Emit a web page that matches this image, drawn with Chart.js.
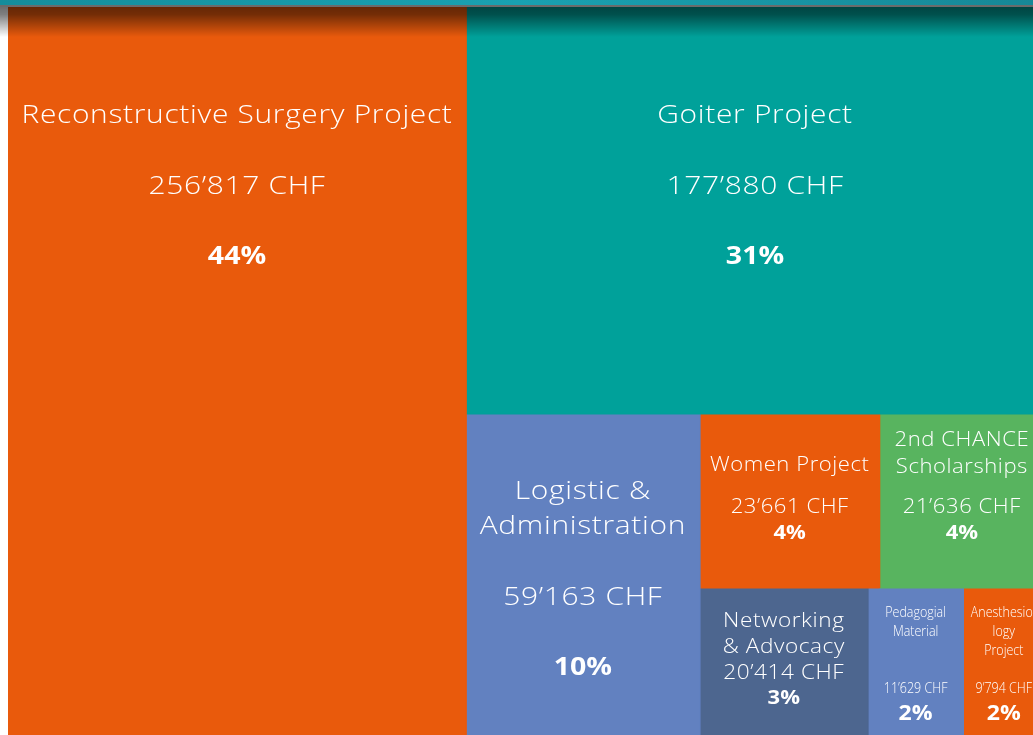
<!DOCTYPE html>
<html><head><meta charset="utf-8">
<script src="https://cdn.jsdelivr.net/npm/chart.js@4.4.1/dist/chart.umd.min.js"></script>
<style>html,body{margin:0;padding:0;background:#fff;overflow:hidden}#wrap{position:relative;width:1033px;height:735px}</style>
</head><body><div id="wrap"><canvas id="c"></canvas></div>
<script>
// ---------- data ----------
const categories = ['Reconstructive Surgery Project','Goiter Project','Logistic & Administration','Women Project','2nd CHANCE Scholarships','Networking & Advocacy','Pedagogial Material','Anesthesiology Project'];
const valuesCHF = [256817,177880,59163,23661,21636,20414,11629,9794];
const percentLabels = ['44%','31%','10%','4%','4%','3%','2%','2%'];
const titleLines = [['Reconstructive Surgery Project'],['Goiter Project'],['Logistic &','Administration'],['Women Project'],['2nd CHANCE','Scholarships'],['Networking','& Advocacy'],['Pedagogial','Material'],['Anesthesio-','logy','Project']];
const cellColors = ['#e95a0c','#00a19a','#6281c0','#e95a0c','#58b45f','#4d668f','#6281c0','#e95a0c'];

// ---------- styles (label placement per cell) ----------
const FAM = '"Open Sans"';
const BIG = {ref:'top', vy:180, lh:35, tg:71, pg:70, fs:[26,26,25.5], ls:0.6, sx:1.15, psx:1.12};
const labelStyles = [
  BIG, BIG,
  {ref:'mid', vy:16.6, lh:35, tg:71, pg:70, fs:[26,26,25.5], ls:0.6, sx:1.15, psx:1.12},
  {ref:'mid', vy:6, lh:27, tg:42, pg:26, fs:[19.5,19.5,20], ls:0.5, sx:1.13, psx:1.1},
  {ref:'mid', vy:6, lh:27, tg:40, pg:26, fs:[19.5,19.5,20], ls:0.5, sx:1.13, psx:1.1},
  {ref:'mid', vy:4.6, lh:26, tg:26, pg:25, fs:[20,20,20], ls:0.5, sx:1.13, psx:1.1},
  {ref:'mid', vy:20.6, lh:19, ty:25, pg:25, fs:[14.5,14.5,22], ls:0, sx:0.86, psx:1.05},
  {ref:'mid', vy:20.6, lh:19, ty:25, pg:25, fs:[14.5,14.5,22], ls:0, sx:0.86, psx:1.05}
];

function fmtCHF(n){ return n.toString().replace(/\B(?=(\d{3})+(?!\d))/g,'\u2019') + ' CHF'; }

// slice layout in the unit square, sizes proportional to the values
function treemapLayout(v){
  const A = v.reduce((a,b)=>a+b,0);
  const rects=[];
  const w0=v[0]/A; rects.push({x0:0,x1:w0,y0:0,y1:1});
  const R1=A-v[0]; const h1=v[1]/R1; rects.push({x0:w0,x1:1,y0:0,y1:h1});
  const R2=R1-v[1]; const xL=w0+(1-w0)*v[2]/R2; rects.push({x0:w0,x1:xL,y0:h1,y1:1});
  const R3=R2-v[2]; const rowA=v[3]+v[4]; const yR=h1+(1-h1)*rowA/R3;
  let x=xL;
  for(const i of [3,4]){const w=(1-xL)*v[i]/rowA; rects.push({x0:x,x1:x+w,y0:h1,y1:yR}); x+=w;}
  const rowB=v[5]+v[6]+v[7]; x=xL;
  for(const i of [5,6,7]){const w=(1-xL)*v[i]/rowB; rects.push({x0:x,x1:x+w,y0:yR,y1:1}); x+=w;}
  return rects;
}
const rects = treemapLayout(valuesCHF);

const datasets = rects.map((r,i)=>({
  label: categories[i],
  data: [{x:r.x0,y:r.y0},{x:r.x1,y:r.y0},{x:r.x1,y:r.y1},{x:r.x0,y:r.y1},{x:r.x0,y:r.y0}],
  backgroundColor: cellColors[i],
  borderColor: cellColors[i],
  borderWidth: 1,
  pointRadius: 0,
  tension: 0,
  fill: 'shape'
}));

function drawText(ctx, t, x, y, ls, sx){
  ctx.save();
  ctx.letterSpacing = ls + 'px';
  ctx.translate(x, y); ctx.scale(sx, 1);
  ctx.fillText(t, 0, 0);
  ctx.restore();
}

const decor = {
  id:'decor',
  afterDatasetsDraw(chart){
    const ctx = chart.ctx, ca = chart.chartArea, W = chart.width;
    const xs = chart.scales.x, ys = chart.scales.y;
    ctx.save();
    // top shadow
    const g = ctx.createLinearGradient(0, ca.top, 0, ca.top+30);
    g.addColorStop(0,'rgba(0,0,0,0.57)');
    g.addColorStop(0.25,'rgba(0,0,0,0.5)');
    g.addColorStop(1,'rgba(0,0,0,0)');
    ctx.fillStyle = g; ctx.fillRect(0, ca.top, W, 30);
    // top band
    const gb = ctx.createLinearGradient(0,0,W,0);
    gb.addColorStop(0,'#158d9b'); gb.addColorStop(0.5,'#19a1b1'); gb.addColorStop(1,'#168897');
    ctx.fillStyle = gb; ctx.fillRect(0,0,W,5);
    ctx.fillStyle = '#6b6b6b'; ctx.fillRect(0,5,W,2);
    // labels
    ctx.fillStyle = '#ffffff'; ctx.textAlign='center'; ctx.textBaseline='middle';
    rects.forEach((r,i)=>{
      const s = labelStyles[i];
      const px0 = xs.getPixelForValue(r.x0), px1 = xs.getPixelForValue(r.x1);
      const py0 = ys.getPixelForValue(r.y0), py1 = ys.getPixelForValue(r.y1);
      const cx = (px0+px1)/2;
      const base = s.ref==='top' ? py0 : (py0+py1)/2;
      const vY = base + s.vy;
      const lines = titleLines[i];
      ctx.font = `300 ${s.fs[0]}px ${FAM}`;
      lines.forEach((t,k)=>{
        let y;
        if (s.ty!==undefined) y = py0 + s.ty + k*s.lh;
        else y = vY - s.tg - (lines.length-1-k)*s.lh;
        drawText(ctx, t, cx, y, s.ls, s.sx);
      });
      ctx.font = `300 ${s.fs[1]}px ${FAM}`;
      drawText(ctx, fmtCHF(valuesCHF[i]), cx, vY, s.ls, s.sx);
      ctx.font = `700 ${s.fs[2]}px ${FAM}`;
      drawText(ctx, percentLabels[i], cx, vY + s.pg, 0, s.psx);
    });
    ctx.restore();
  }
};

new Chart(document.getElementById('c'), {
  type:'line',
  data:{datasets},
  options:{
    responsive:true, maintainAspectRatio:false, animation:false, events:[],
    layout:{padding:{left:8, top:7, right:0, bottom:0}},
    plugins:{legend:{display:false}, tooltip:{enabled:false}},
    scales:{
      x:{type:'linear', min:0, max:0.9893, display:false},
      y:{type:'linear', min:0, max:0.9815, reverse:true, display:false}
    }
  },
  plugins:[decor]
});
</script></body></html>
